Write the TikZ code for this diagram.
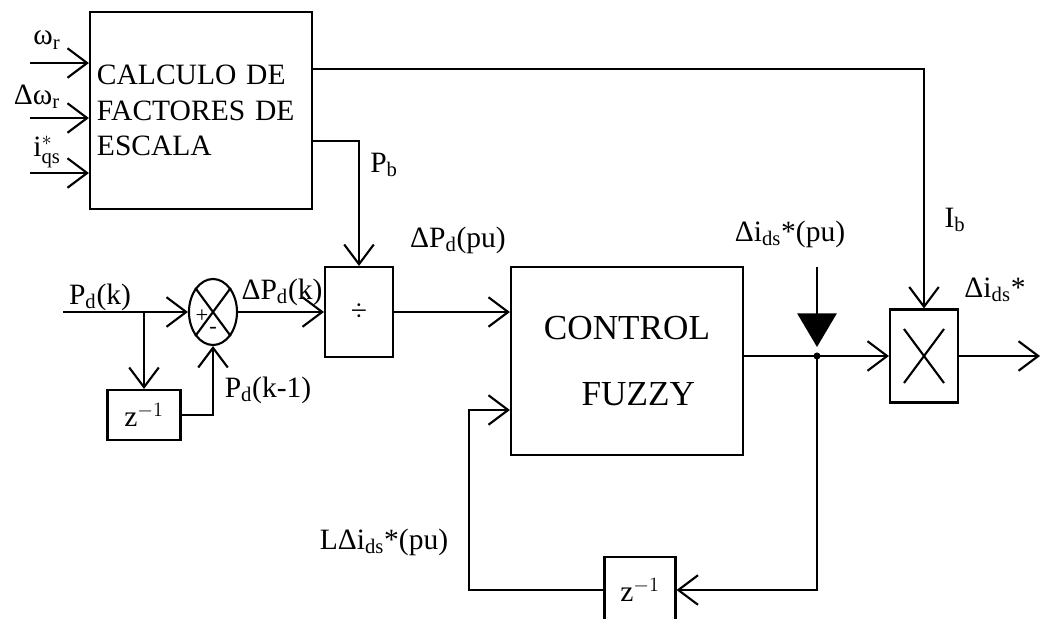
\documentclass[tikz,border=0pt]{standalone}
\usepackage{fontspec}
\setmainfont{Liberation Serif}
\usetikzlibrary{arrows.meta,shapes.geometric}

\tikzset{
  blk/.style={draw,line width=1.5pt,inner sep=0pt},
  arr/.style={-{Straight Barb[length=14pt,width=21pt]}},
  sgn/.style={inner sep=0pt,font=\fontsize{16}{16}\selectfont}
}

\begin{document}
\begin{tikzpicture}[x=0.025cm,y=-0.025cm,line width=1.5pt,font=\fontsize{21}{25}\selectfont]
  \useasboundingbox (0,0) rectangle (1042,619);

  % scale factor block with its three inputs
  \node[blk,minimum width=5.55cm,minimum height=4.925cm,text width=5.2cm,align=left] (calc) at (201,110.5) {CALCULO DE\\FACTORES DE\\ESCALA};
  \coordinate (w1) at (30,63);
  \coordinate (w2) at (30,118);
  \coordinate (w3) at (30,173);
  \draw[arr] (w1) -- (w1 -| calc.west);
  \draw[arr] (w2) -- (w2 -| calc.west);
  \draw[arr] (w3) -- (w3 -| calc.west);
  \node (lwr) at (47,40) {ω$_\mathrm{r}$};
  \node (ldwr) at (37,97) {Δω$_\mathrm{r}$};
  \node (liqs) at (47,152) {$\mathrm{i}^{*}_{\mathrm{qs}}$};

  % error path
  \node[blk,ellipse,minimum width=1.2cm,minimum height=1.65cm] (sum) at (213,312) {};
  \draw (sum.north west) -- (sum.south east);
  \draw (sum.north east) -- (sum.south west);
  \node[sgn] (plus) at (202,316) {+};
  \node[sgn] (minus) at (213,330) {-};
  \node[blk,minimum width=1.825cm,minimum height=1.25cm] (zl) at (144,415) {z$^{-1}$};
  \node[blk,minimum width=1.7cm,minimum height=2.25cm] (div) at (359,312) {÷};
  \coordinate (pin) at (63,312);
  \coordinate (br) at (144,312);
  \draw[arr] (pin) -- (sum.west);
  \draw[arr] (br) -- (zl.north);
  \draw[arr] (zl.east) -| (sum.south);
  \draw[arr] (sum.east) -- (div.west);
  \node (lpk) at (100,297) {P$_\mathrm{d}$(k)};
  \node (ldpk) at (282,292) {ΔP$_\mathrm{d}$(k)};
  \node (lpk1) at (268,390) {P$_\mathrm{d}$(k-1)};

  % fuzzy controller and output
  \node[blk,minimum width=5.8cm,minimum height=4.7cm,align=center,font=\fontsize{25}{29}\selectfont] (fuzzy) at (627,361) {CONTROL\\[18pt]\hspace*{16pt}FUZZY};
  \node[blk,minimum width=1.7cm,minimum height=2.325cm] (mult) at (924,356) {};
  \draw ([shift={(-20,-27)}]mult.center) -- ([shift={(20,27)}]mult.center);
  \draw ([shift={(20,-27)}]mult.center) -- ([shift={(-20,27)}]mult.center);
  \node[blk,minimum width=1.775cm,minimum height=1.65cm] (zr) at (640,590) {z$^{-1}$};
  \draw[arr] (div.east) -- (div.east -| fuzzy.west);
  \coordinate (pb) at (359,141);
  \draw[arr] (calc.east |- pb) -- (pb) -- (div.north);
  \coordinate (ib) at (924,69);
  \draw[arr] (calc.east |- ib) -- (ib) -- (mult.north);
  \coordinate (jn) at (817,356);
  \draw (fuzzy.east |- jn) -- (jn);
  \fill (jn) circle (2.5pt);
  \draw[arr] (jn) -- (mult.west);
  \coordinate (out) at (1040,356);
  \draw[arr] (mult.east) -- (out);
  \draw[arr] (jn) |- (zr.east);
  \coordinate (fb) at (469,410);
  \draw[arr] (zr.west) -| (fb) -- (fb -| fuzzy.west);
  \coordinate (tri) at (817,267);
  \coordinate (tip) at (817,347);
  \draw[-{Triangle[length=24pt,width=28pt]}] (tri) -- (tip);
  \node (lpb) at (384,165) {P$_\mathrm{b}$};
  \node (lib) at (955,220) {I$_\mathrm{b}$};
  \node (ldpu) at (458,240) {ΔP$_\mathrm{d}$(pu)};
  \node (ldipu) at (790,234) {Δi$_\mathrm{ds}$*(pu)};
  \node (ldi) at (995,290) {Δi$_\mathrm{ds}$*};
  \node (lldi) at (384,542) {LΔi$_\mathrm{ds}$*(pu)};
\end{tikzpicture}
\end{document}
